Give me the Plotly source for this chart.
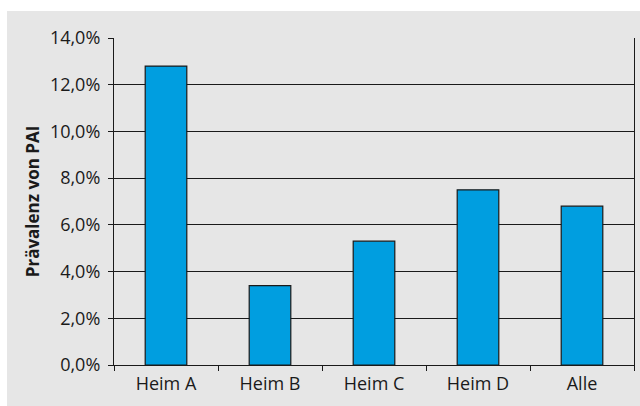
import plotly.graph_objects as go

# Prävalenz von PAI je Heim (in %)
categories = ["Heim A", "Heim B", "Heim C", "Heim D", "Alle"]
prevalence = [12.8, 3.4, 5.3, 7.5, 6.8]
y_ticks = [0, 2, 4, 6, 8, 10, 12, 14]
y_tick_labels = ["0,0%", "2,0%", "4,0%", "6,0%", "8,0%", "10,0%", "12,0%", "14,0%"]

BG = "#e6e6e6"
BAR = "#009ee0"
FONT = "Open Sans, Noto Sans, sans-serif"

fig = go.Figure(
    go.Bar(
        x=categories,
        y=prevalence,
        width=0.4,
        marker=dict(color=BAR, line=dict(color="#1a1a1a", width=1.2)),
    )
)

fig.update_layout(
    width=640,
    height=406,
    margin=dict(l=114, r=6, t=38, b=41),
    paper_bgcolor=BG,
    plot_bgcolor=BG,
    font=dict(family=FONT, size=18, color="#1a1a1a"),
    showlegend=False,
    bargap=0.6,
    shapes=[
        # white frame strips around the grey panel
        dict(type="rect", xref="paper", yref="paper", layer="below",
             x0=-114 / 520, x1=1 + 6 / 520, y0=1 + 27 / 327, y1=1 + 40 / 327,
             fillcolor="white", line=dict(width=0)),
        dict(type="rect", xref="paper", yref="paper", layer="below",
             x0=-120 / 520, x1=-107 / 520, y0=-50 / 327, y1=1 + 40 / 327,
             fillcolor="white", line=dict(width=0)),
    ],
)

fig.update_xaxes(
    type="category",
    showline=True,
    linecolor="#1a1a1a",
    linewidth=1.2,
    ticks="outside",
    tickson="boundaries",
    ticklen=5,
    tickcolor="#1a1a1a",
    showgrid=False,
    tickfont=dict(size=18),
    ticklabelstandoff=2,
)

fig.update_yaxes(
    range=[0, 14],
    tickvals=y_ticks,
    ticktext=y_tick_labels,
    showline=True,
    mirror=True,
    linecolor="#1a1a1a",
    linewidth=1.2,
    ticks="outside",
    ticklen=5,
    tickcolor="#1a1a1a",
    showgrid=True,
    gridcolor="#1a1a1a",
    gridwidth=1,
    zeroline=False,
    tickfont=dict(size=18),
    ticklabelstandoff=4,
    title=dict(text="<b>Prävalenz von PAI</b>", font=dict(size=17), standoff=5),
)

fig.write_html("out.html")
